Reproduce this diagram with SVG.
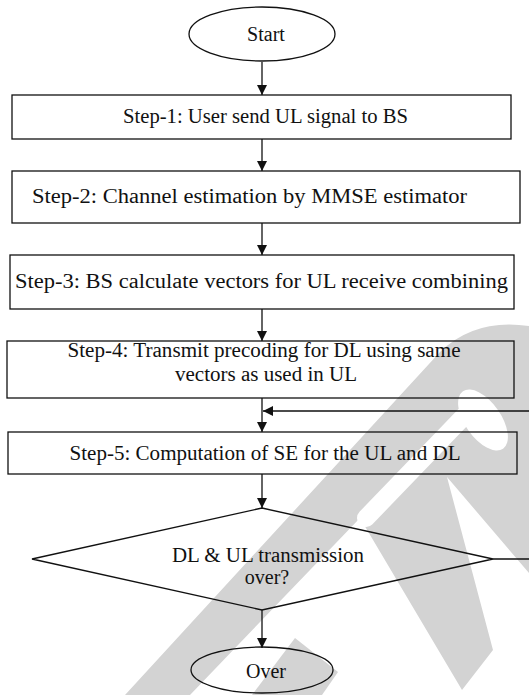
<svg xmlns="http://www.w3.org/2000/svg" width="529" height="695" viewBox="0 0 529 695">
  <defs>
    <marker id="ah" markerUnits="userSpaceOnUse" markerWidth="10" markerHeight="10" refX="10" refY="5" orient="auto">
      <path d="M0,0 L10,5 L0,10 Z" fill="#111"/>
    </marker>
    <style>
      .shape { fill: none; stroke: #111; stroke-width: 1.3; }
      .txt { font-family: "Liberation Serif", "Times New Roman", serif; font-size: 20px; fill: #111; text-anchor: middle; }
      .conn { fill: none; stroke: #111; stroke-width: 1.3; }
      .wm { fill: #d3d3d3; }
      .wmw { fill: #ffffff; }
    </style>
  </defs>
  <rect x="0" y="0" width="529" height="695" fill="#ffffff"/>

  <g id="watermark">
    <path class="wm" d="M125,695 L440,352 Q475,318 529,326 L529,573 L447,477 L493,650 L462,690 L360,518 L190,695 Z"/>
    <path d="M366,518 L470,410" stroke="#ffffff" stroke-width="18" stroke-linecap="round" fill="none"/>
    <ellipse class="wmw" cx="483" cy="420" rx="18" ry="35" transform="rotate(-35 483 420)"/>
    <path class="wm" d="M252,695 L322,695 L338,672 L295,638 Z"/>
  </g>

  <g id="connectors">
    <line class="conn" x1="262" y1="62" x2="262" y2="95" marker-end="url(#ah)"/>
    <line class="conn" x1="262" y1="139" x2="262" y2="171" marker-end="url(#ah)"/>
    <line class="conn" x1="262" y1="223" x2="262" y2="255" marker-end="url(#ah)"/>
    <line class="conn" x1="262" y1="309" x2="262" y2="341" marker-end="url(#ah)"/>
    <line class="conn" x1="262" y1="398" x2="262" y2="432" marker-end="url(#ah)"/>
    <line class="conn" x1="262" y1="474" x2="262" y2="508" marker-end="url(#ah)"/>
    <line class="conn" x1="262" y1="610" x2="262" y2="648" marker-end="url(#ah)"/>
    <polyline class="conn" points="493,559 535,559 535,411 263,411" marker-end="url(#ah)"/>
  </g>

  <g id="start">
    <ellipse class="shape" cx="262" cy="34" rx="73" ry="27"/>
    <text class="txt" x="266" y="41">Start</text>
  </g>
  <g id="step1">
    <rect class="shape" x="12" y="95" width="499" height="44"/>
    <text class="txt" x="265.5" y="123" textLength="285" lengthAdjust="spacingAndGlyphs">Step-1: User send UL signal to BS</text>
  </g>
  <g id="step2">
    <rect class="shape" x="12" y="171" width="508" height="52"/>
    <text class="txt" x="249.5" y="203" textLength="435" lengthAdjust="spacingAndGlyphs">Step-2: Channel estimation by MMSE estimator</text>
  </g>
  <g id="step3">
    <rect class="shape" x="10" y="255" width="504" height="54"/>
    <text class="txt" x="261.5" y="288" textLength="493" lengthAdjust="spacingAndGlyphs">Step-3: BS calculate vectors for UL receive combining</text>
  </g>
  <g id="step4">
    <rect class="shape" x="7" y="341" width="507" height="57"/>
    <text class="txt" x="264" y="357" textLength="393" lengthAdjust="spacingAndGlyphs">Step-4: Transmit precoding for DL using same</text>
    <text class="txt" x="266" y="381" textLength="182" lengthAdjust="spacingAndGlyphs">vectors as used in UL</text>
  </g>
  <g id="step5">
    <rect class="shape" x="8" y="432" width="509" height="42"/>
    <text class="txt" x="265" y="460" textLength="391" lengthAdjust="spacingAndGlyphs">Step-5: Computation of SE for the UL and DL</text>
  </g>
  <g id="decision">
    <polygon class="shape" points="262,508 493,559 262,610 32,559"/>
    <text class="txt" x="268" y="562" textLength="192" lengthAdjust="spacingAndGlyphs">DL &amp; UL transmission</text>
    <text class="txt" x="267" y="584">over?</text>
  </g>
  <g id="over">
    <ellipse class="shape" cx="262" cy="670" rx="71" ry="23"/>
    <text class="txt" x="266" y="678">Over</text>
  </g>
</svg>
